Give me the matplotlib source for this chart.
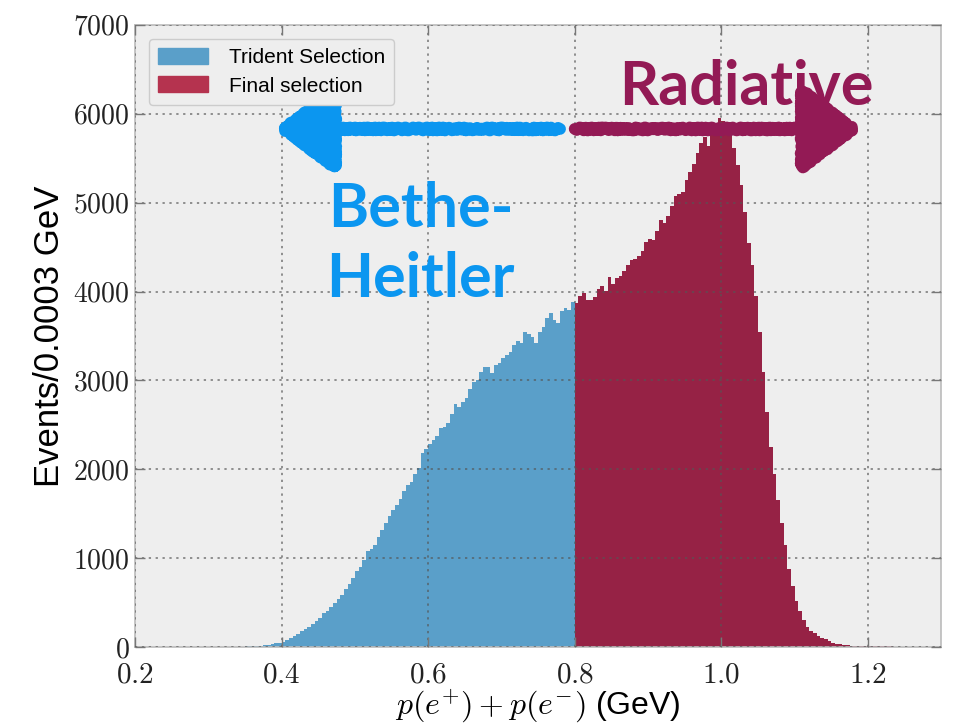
import matplotlib.pyplot as plt
import matplotlib.ticker as mticker
from matplotlib.patches import Patch
import numpy as np

plt.rcParams['mathtext.fontset'] = 'cm'
plt.rcParams['font.family'] = ['Liberation Sans', 'DejaVu Sans']

# histogram binning (GeV)
bin_width = 0.005
trident_lo, trident_hi = 0.34, 0.80
final_lo, final_hi = 0.80, 1.30

# events per bin, p(e+) + p(e-) below 0.8 GeV
trident_counts = [
    3, 5, 6, 8, 10, 12, 15, 20, 25, 32,
    40, 50, 62, 80, 100, 125, 150, 175, 200, 230,
    260, 295, 330, 380, 410, 455, 500, 540, 590, 650,
    710, 780, 850, 900, 980, 1080, 1100, 1150, 1240, 1320,
    1400, 1470, 1540, 1600, 1660, 1760, 1820, 1860, 1950, 2010,
    2180, 2230, 2290, 2330, 2380, 2470, 2480, 2520, 2620, 2740,
    2700, 2760, 2800, 2900, 2980, 3000, 3100, 3150, 3150, 3080,
    3170, 3200, 3250, 3290, 3320, 3400, 3440, 3420, 3540, 3520,
    3490, 3420, 3540, 3600, 3700, 3760, 3680, 3650, 3780, 3820,
    3790, 3880,
]

# events per bin, p(e+) + p(e-) above 0.8 GeV
final_counts = [
    3870, 3950, 3980, 3910, 3900, 3940, 4030, 4060, 4010, 4160,
    4080, 4150, 4180, 4230, 4300, 4350, 4370, 4400, 4460, 4560,
    4590, 4580, 4680, 4800, 4770, 4850, 4960, 5070, 5100, 5120,
    5250, 5340, 5440, 5560, 5670, 5740, 5640, 5800, 5860, 5950,
    5920, 5880, 5800, 5620, 5420, 5200, 4900, 4550, 4300, 3950,
    3550, 3100, 2650, 2250, 1950, 1650, 1400, 1150, 880, 690,
    520, 400, 300, 230, 185, 155, 128, 105, 85, 65,
    50, 38, 30, 24, 20, 17, 15, 13, 12, 10,
    9, 8, 8, 7, 7, 6, 6, 5, 5, 5,
    4, 4, 4, 3, 3, 3, 3, 2, 2, 2,
]

blue = '#5a9fc9'
crimson = '#962245'
crimson_legend = '#b5334f'
arrow_blue = '#0b96f0'
arrow_red = '#931a55'

edges_t = np.linspace(trident_lo, trident_hi, len(trident_counts) + 1)
edges_f = np.linspace(final_lo, final_hi, len(final_counts) + 1)
centers_t = 0.5 * (edges_t[:-1] + edges_t[1:])
centers_f = 0.5 * (edges_f[:-1] + edges_f[1:])

fig = plt.figure(figsize=(9.54, 7.26), dpi=100)
ax = fig.add_axes([0.1415, 0.1088, 0.845, 0.8568])
ax.set_facecolor('#eeeeee')

ax.hist(centers_t, bins=edges_t, weights=trident_counts, histtype='stepfilled',
        color=blue, label='Trident Selection')
ax.hist(centers_f, bins=edges_f, weights=final_counts, histtype='stepfilled',
        color=crimson, label='Final selection')

ax.set_xlim(0.2, 1.3)
ax.set_ylim(0, 7000)
ax.set_xticks([0.2, 0.4, 0.6, 0.8, 1.0, 1.2])
ax.set_yticks(range(0, 7001, 1000))
ax.xaxis.set_major_formatter(mticker.FuncFormatter(lambda v, _: f'${v:.1f}$'))
ax.yaxis.set_major_formatter(mticker.FuncFormatter(lambda v, _: f'${v:.0f}$'))
ax.tick_params(direction='in', top=True, right=True, length=7, width=1,
               color='#777777', labelcolor='#222222')
ax.tick_params(axis='x', pad=10, labelsize=21)
ax.tick_params(axis='y', pad=4, labelsize=20)

ax.set_axisbelow(False)
ax.grid(True, linestyle=(0, (1.5, 3)), color='#555555', linewidth=1.1, alpha=0.8)
for s in ax.spines.values():
    s.set_color('#bbbbbb')
    s.set_linewidth(1.2)

ax.set_ylabel('Events/0.0003 GeV', fontsize=25, labelpad=5)
ax.set_xlabel(r'$p(e^{+}) + p(e^{-})$ (GeV)', fontsize=23, labelpad=-1)

handles = [Patch(color=blue), Patch(color=crimson_legend)]
leg = ax.legend(handles, ['Trident Selection', 'Final selection'], loc='upper left',
                fontsize=15, frameon=True, facecolor='#eeeeee', edgecolor='#cccccc',
                framealpha=1, handlelength=2.4, handleheight=0.8, handletextpad=1.0,
                borderpad=0.45, labelspacing=0.45, bbox_to_anchor=(0.004, 0.995))

# rough hand-drawn arrows marking the two regions
y_arrow = 5830
for tail, tip, col in [(0.78, 0.391, arrow_blue), (0.80, 1.192, arrow_red)]:
    arr = ax.annotate('', xy=(tip, y_arrow), xytext=(tail, y_arrow),
                      annotation_clip=False,
                      arrowprops=dict(arrowstyle='-|>,head_length=0.36,head_width=0.27',
                                      mutation_scale=100, lw=8.5, color=col,
                                      shrinkA=0, shrinkB=0))
    arr.arrow_patch.set_sketch_params(scale=1.5, length=6, randomness=3)

ax.text(1.034, 6100, 'Radiative', color=arrow_red, fontsize=44,
        fontfamily='Lato', fontweight='bold', ha='center', va='baseline')
ax.text(0.590, 3937, 'Bethe-\nHeitler', color=arrow_blue, fontsize=44,
        fontfamily='Lato', fontweight='bold', ha='center', va='baseline',
        linespacing=1.3)

fig.savefig('out.png', dpi=100)
